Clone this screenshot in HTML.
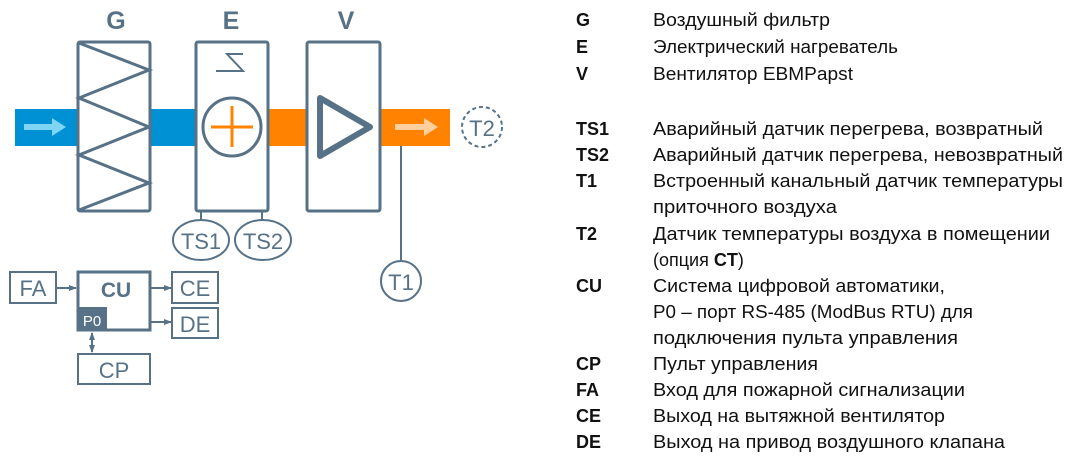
<!DOCTYPE html>
<html><head><meta charset="utf-8"><style>
html,body{margin:0;padding:0;background:#fff;}
svg{display:block;}
.l{font-family:"Liberation Sans",sans-serif;font-size:18px;fill:#111;}
.b{font-weight:bold;}
.d{font-family:"Liberation Sans",sans-serif;fill:#577286;}
</style></head><body>
<svg width="1076" height="464" viewBox="0 0 1076 464" xmlns="http://www.w3.org/2000/svg">
<defs>
<marker id="ah" markerWidth="8" markerHeight="8" refX="7" refY="4" orient="auto" markerUnits="userSpaceOnUse"><path d="M0,1 L8,4 L0,7 z" fill="#577286"/></marker>
<marker id="ah2" markerWidth="8" markerHeight="8" refX="1" refY="4" orient="auto" markerUnits="userSpaceOnUse"><path d="M8,1 L0,4 L8,7 z" fill="#577286"/></marker>
</defs>
<rect x="15" y="109" width="182" height="37" fill="#0090d4"/>
<rect x="268" y="109" width="182" height="37" fill="#ff8200"/>
<path d="M24,127 H56" stroke="#7fd6f4" stroke-width="6"/>
<path d="M52,118 L66,127 L52,136 z" fill="#7fd6f4"/>
<path d="M395,127 H428" stroke="#ffcf9e" stroke-width="6"/>
<path d="M424,118 L438,127 L424,136 z" fill="#ffcf9e"/>
<rect x="78" y="42" width="72" height="169" rx="2" fill="#fff" stroke="#577286" stroke-width="3"/>
<path d="M79,43 L149,70 L79,98 L149,127 L79,155 L149,183 L79,210" fill="none" stroke="#577286" stroke-width="3"/>
<rect x="196" y="42" width="72" height="169" rx="2" fill="#fff" stroke="#577286" stroke-width="3"/>
<path d="M243,54 H227 L243,71 H216" fill="none" stroke="#577286" stroke-width="2"/>
<circle cx="232" cy="127" r="29" fill="#fff" stroke="#577286" stroke-width="3"/>
<path d="M211,127 H253 M232,106 V147" stroke="#ff8200" stroke-width="3"/>
<rect x="307" y="42" width="73" height="169" rx="2" fill="#fff" stroke="#577286" stroke-width="3"/>
<path d="M320,98 L370,127 L320,156 z" fill="none" stroke="#577286" stroke-width="6" stroke-linejoin="round"/>
<text x="116" y="29" text-anchor="middle" class="d" font-size="25" font-weight="bold">G</text>
<text x="231" y="29" text-anchor="middle" class="d" font-size="25" font-weight="bold">E</text>
<text x="346" y="29" text-anchor="middle" class="d" font-size="25" font-weight="bold">V</text>
<circle cx="482" cy="127" r="20" fill="#fff" stroke="#577286" stroke-width="2" stroke-dasharray="4,3"/>
<text x="482" y="136" text-anchor="middle" class="d" font-size="22">T2</text>
<path d="M401,146 V261" stroke="#577286" stroke-width="2"/>
<circle cx="401" cy="281" r="20" fill="#fff" stroke="#577286" stroke-width="2"/>
<text x="401" y="290" text-anchor="middle" class="d" font-size="22">T1</text>
<path d="M201,211 V222 M262,211 V222" stroke="#577286" stroke-width="2"/>
<ellipse cx="201" cy="240" rx="28" ry="20" fill="#fff" stroke="#577286" stroke-width="2"/>
<ellipse cx="263" cy="240" rx="28" ry="20" fill="#fff" stroke="#577286" stroke-width="2"/>
<text x="201" y="249" text-anchor="middle" class="d" font-size="22">TS1</text>
<text x="263" y="249" text-anchor="middle" class="d" font-size="22">TS2</text>
<rect x="10" y="272" width="46" height="31" fill="#fff" stroke="#577286" stroke-width="2"/>
<text x="33" y="296" text-anchor="middle" class="d" font-size="22">FA</text>
<rect x="78" y="272" width="72" height="58" fill="#fff" stroke="#577286" stroke-width="3"/>
<rect x="78" y="307" width="29" height="23" fill="#577286"/>
<text x="92" y="326" text-anchor="middle" font-family="Liberation Sans,sans-serif" font-size="15" fill="#fff">P0</text>
<text x="116" y="297" text-anchor="middle" class="d" font-size="21" font-weight="bold">CU</text>
<rect x="172" y="272" width="46" height="31" fill="#fff" stroke="#577286" stroke-width="2"/>
<text x="195" y="296" text-anchor="middle" class="d" font-size="22">CE</text>
<rect x="172" y="308" width="46" height="30" fill="#fff" stroke="#577286" stroke-width="2"/>
<text x="195" y="332" text-anchor="middle" class="d" font-size="22">DE</text>
<rect x="78" y="354" width="72" height="30" fill="#fff" stroke="#577286" stroke-width="2"/>
<text x="114" y="378" text-anchor="middle" class="d" font-size="22">CP</text>
<path d="M56,288 H76" stroke="#577286" stroke-width="2" marker-end="url(#ah)"/>
<path d="M151,288 H171" stroke="#577286" stroke-width="2" marker-end="url(#ah)"/>
<path d="M151,322 H171" stroke="#577286" stroke-width="2" marker-end="url(#ah)"/>
<path d="M92,333 V352" stroke="#577286" stroke-width="2" marker-end="url(#ah)" marker-start="url(#ah2)"/>
<g class="l">
<text x="576" y="26" class="b">G</text><text x="653" y="26" textLength="177" lengthAdjust="spacingAndGlyphs">Воздушный фильтр</text>
<text x="576" y="53" class="b">E</text><text x="653" y="53" textLength="245" lengthAdjust="spacingAndGlyphs">Электрический нагреватель</text>
<text x="576" y="80" class="b">V</text><text x="653" y="80" textLength="200" lengthAdjust="spacingAndGlyphs">Вентилятор EBMPapst</text>
<text x="576" y="135" class="b">TS1</text><text x="653" y="135" textLength="390" lengthAdjust="spacingAndGlyphs">Аварийный датчик перегрева, возвратный</text>
<text x="576" y="161" class="b">TS2</text><text x="653" y="161" textLength="410" lengthAdjust="spacingAndGlyphs">Аварийный датчик перегрева, невозвратный</text>
<text x="576" y="187" class="b">T1</text><text x="653" y="187" textLength="410" lengthAdjust="spacingAndGlyphs">Встроенный канальный датчик температуры</text>
<text x="653" y="213" textLength="184" lengthAdjust="spacingAndGlyphs">приточного воздуха</text>
<text x="576" y="240" class="b">T2</text><text x="653" y="240" textLength="397" lengthAdjust="spacingAndGlyphs">Датчик температуры воздуха в помещении</text>
<text x="653" y="266">(опция <tspan class="b">CT</tspan>)</text>
<text x="576" y="292" class="b">CU</text><text x="653" y="292" textLength="292" lengthAdjust="spacingAndGlyphs">Система цифровой автоматики,</text>
<text x="653" y="318" textLength="320" lengthAdjust="spacingAndGlyphs">P0 – порт RS-485 (ModBus RTU) для</text>
<text x="653" y="344" textLength="305" lengthAdjust="spacingAndGlyphs">подключения пульта управления</text>
<text x="576" y="370" class="b">CP</text><text x="653" y="370" textLength="165" lengthAdjust="spacingAndGlyphs">Пульт управления</text>
<text x="576" y="396" class="b">FA</text><text x="653" y="396" textLength="312" lengthAdjust="spacingAndGlyphs">Вход для пожарной сигнализации</text>
<text x="576" y="422" class="b">CE</text><text x="653" y="422" textLength="292" lengthAdjust="spacingAndGlyphs">Выход на вытяжной вентилятор</text>
<text x="576" y="448" class="b">DE</text><text x="653" y="448" textLength="352" lengthAdjust="spacingAndGlyphs">Выход на привод воздушного клапана</text>
</g>
</svg>
</body></html>
